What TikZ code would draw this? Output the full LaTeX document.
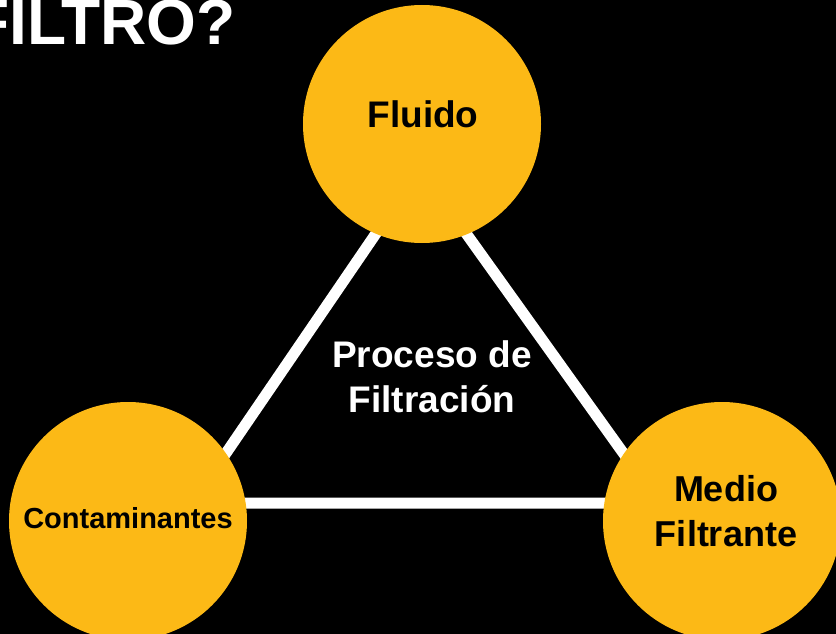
\documentclass[tikz,border=0pt]{standalone}
\usepackage{fontspec}
\setmainfont{Liberation Sans}
\definecolor{gold}{RGB}{252,185,22}
\begin{document}
\begin{tikzpicture}[x=1pt,y=-1pt,
  bubble/.style={circle,fill=gold,draw=none,minimum size=238pt,inner sep=0pt},
  link/.style={draw=white,line width=11pt},
  dark/.style={text=black,font=\bfseries,inner sep=0pt,align=center},
  light/.style={text=white,font=\bfseries,inner sep=0pt,align=center}]
\fill[black] (0,0) rectangle (836,634);
\useasboundingbox (0,0) rectangle (836,634);
% title
\node[light,anchor=base east,font=\bfseries\fontsize{64}{70}\selectfont] (title) at (236,45) {FILTRO?};
% triangle vertices
\coordinate (ta) at (420,169);
\coordinate (tl) at (192,503);
\coordinate (tr) at (659,503);
\draw[link] (ta) -- (tl) -- (tr) -- cycle;
% circles
\node[bubble] (fl) at (422,124) {};
\node[bubble] (co) at (128,521) {};
\node[bubble] (me) at (722,521) {};
% labels
\node[dark,anchor=base,font=\bfseries\fontsize{37}{45}\selectfont] (flt) at (423,128) {Fluido};
\node[dark,anchor=base,font=\bfseries\fontsize{29}{35}\selectfont] (cot) at (128,528) {Contaminantes};
\node[dark,font=\bfseries\fontsize{36}{45}\selectfont] (met) at (726,511.5) {Medio\\Filtrante};
\node[light,font=\bfseries\fontsize{37}{45}\selectfont] (pr) at (432,377) {Proceso de\\Filtración};
\end{tikzpicture}
\end{document}
